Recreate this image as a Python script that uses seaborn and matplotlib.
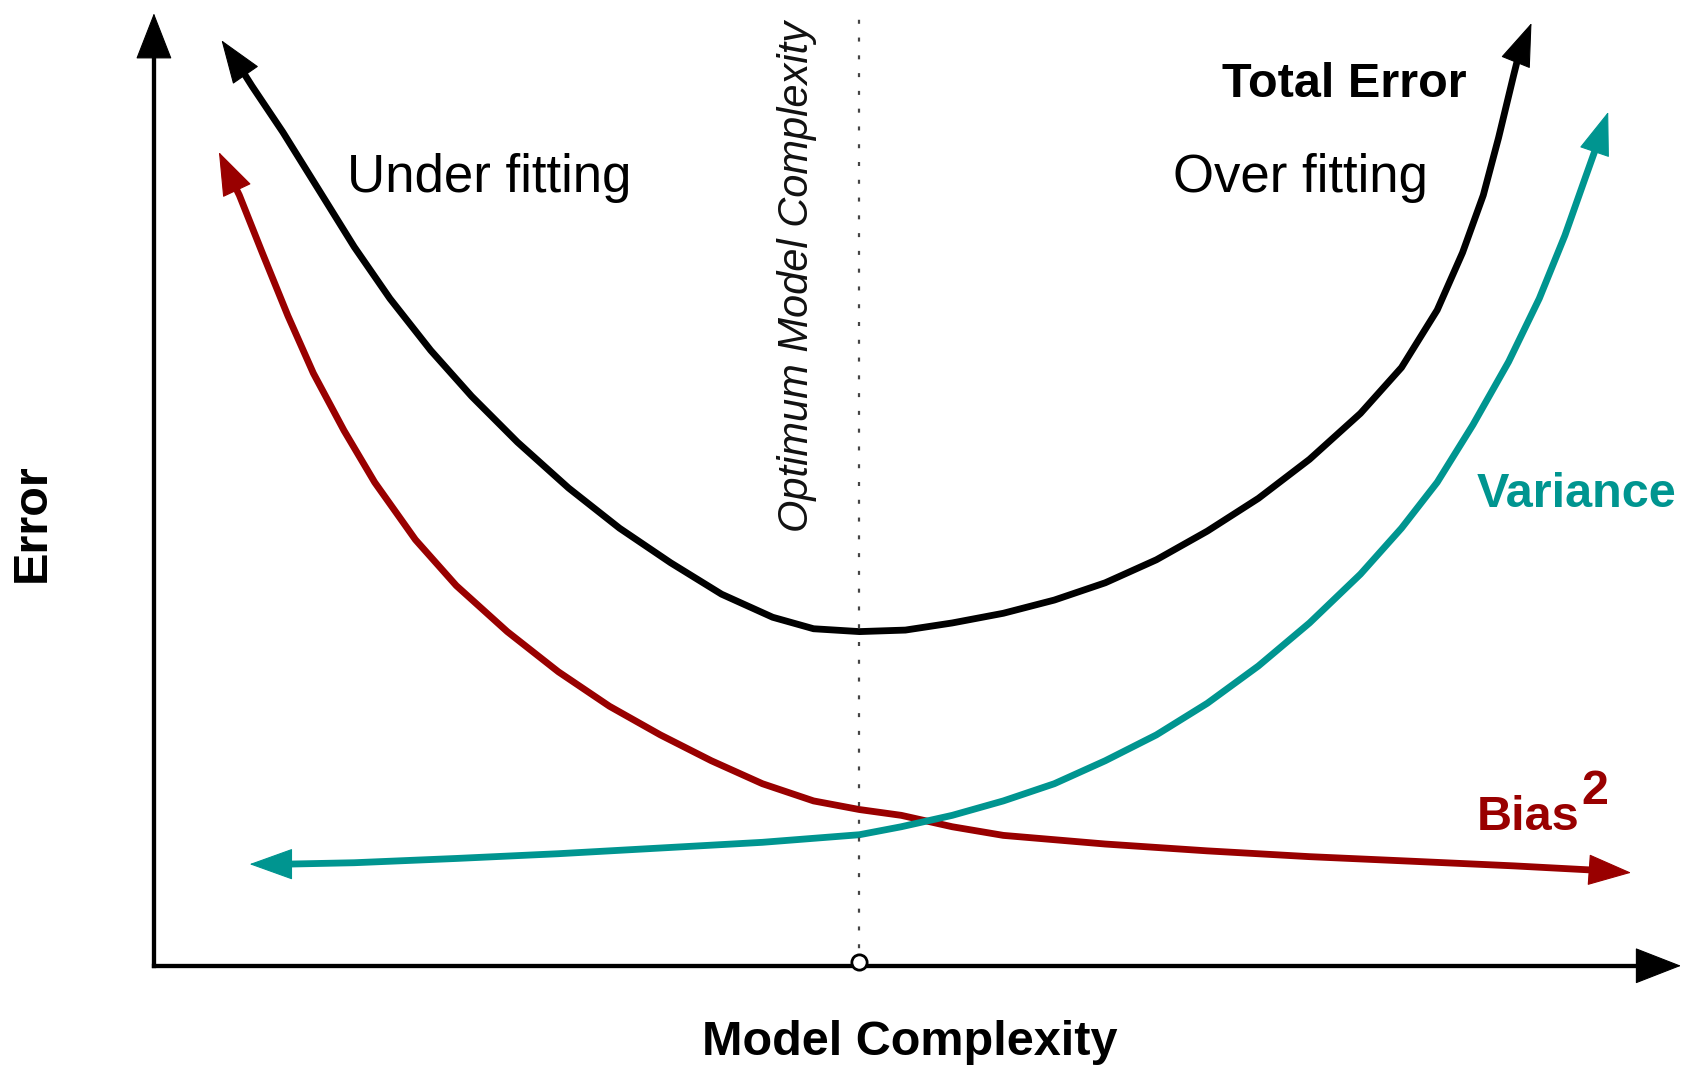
import matplotlib
matplotlib.use("Agg")
import matplotlib.pyplot as plt
import pandas as pd
import seaborn as sns

# Error curves against model complexity (arrow tips kept apart from the curve bodies)
total_x = [0.560, 0.643, 0.845, 1.079, 1.313, 1.547, 1.814, 2.082, 2.383, 2.718,
           3.052, 3.387, 3.721, 4.056, 4.324, 4.625, 4.926, 5.233, 5.568, 5.902,
           6.236, 6.571, 6.905, 7.240, 7.575, 7.909, 8.178, 8.412, 8.578, 8.714,
           8.814, 8.914, 8.947]
total_y = [9.474, 9.263, 8.779, 8.175, 7.570, 7.026, 6.481, 5.998, 5.514, 5.031,
           4.608, 4.244, 3.913, 3.670, 3.549, 3.519, 3.535, 3.610, 3.712, 3.851,
           4.033, 4.275, 4.577, 4.922, 5.333, 5.817, 6.300, 6.905, 7.509, 8.114,
           8.718, 9.384, 9.596]
total_tips = [(0.443, 9.746), (9.030, 9.927)]

bias_x = [0.532, 0.560, 0.710, 0.878, 1.045, 1.246, 1.447, 1.714, 1.982, 2.316,
          2.651, 2.986, 3.320, 3.654, 3.989, 4.324, 4.625, 4.899, 5.233, 5.568,
          6.236, 6.905, 7.575, 8.243, 8.914, 9.430]
bias_y = [8.206, 8.114, 7.509, 6.845, 6.240, 5.636, 5.091, 4.487, 4.003, 3.519,
          3.096, 2.733, 2.431, 2.159, 1.917, 1.736, 1.645, 1.584, 1.464, 1.373,
          1.282, 1.210, 1.149, 1.101, 1.052, 1.008]
bias_tips = [(0.426, 8.568), (9.683, 0.980)]

var_x = [0.861, 1.313, 1.982, 2.651, 3.320, 3.989, 4.625, 4.899, 5.233, 5.568,
         5.902, 6.236, 6.571, 6.905, 7.240, 7.575, 7.909, 8.178, 8.412, 8.646,
         8.880, 9.081, 9.249, 9.382, 9.449]
var_y = [1.070, 1.085, 1.130, 1.180, 1.240, 1.300, 1.380, 1.464, 1.584, 1.736,
         1.917, 2.159, 2.431, 2.764, 3.157, 3.610, 4.124, 4.608, 5.091, 5.696,
         6.360, 7.026, 7.690, 8.295, 8.597]
var_tips = [(0.627, 1.070), (9.533, 8.991)]

optimum_x = 4.622
axis_x_end = 10.01
axis_y_end = 10.03

BLACK = "#000000"
RED = "#990000"
TEAL = "#009590"

sns.set_theme(style="white")
plt.rcParams["font.family"] = ["Liberation Sans", "DejaVu Sans"]

fig = plt.figure(figsize=(16.88, 10.67), dpi=100)
ax = fig.add_axes([0, 0, 1, 1])
ax.set_xlim(-1.009, 10.056)
ax.set_ylim(-1.066, 10.170)
ax.axis("off")

curves = pd.concat([
    pd.DataFrame({"complexity": total_x, "error": total_y, "component": "Total Error"}),
    pd.DataFrame({"complexity": bias_x, "error": bias_y, "component": "Bias"}),
    pd.DataFrame({"complexity": var_x, "error": var_y, "component": "Variance"}),
])
palette = {"Total Error": BLACK, "Bias": RED, "Variance": TEAL}

CURVE_LW = 4.9
sns.lineplot(data=curves, x="complexity", y="error", hue="component",
             palette=palette, hue_order=["Bias", "Variance", "Total Error"],
             estimator=None, sort=False, legend=False, lw=CURVE_LW,
             ax=ax, solid_capstyle="butt", solid_joinstyle="round")


def head(tip, base, color, length=29, width=0.36):
    """Filled arrowhead pointing from base to tip."""
    ax.annotate("", xy=tip, xytext=base,
                arrowprops=dict(arrowstyle=f"-|>,head_length=1.0,head_width={width}",
                                mutation_scale=length, color=color, lw=0.8,
                                shrinkA=0, shrinkB=0))


# arrowheads at both ends of each curve
head(total_tips[0], (total_x[0], total_y[0]), BLACK)
head(total_tips[1], (total_x[-1], total_y[-1]), BLACK)
head(bias_tips[0], (bias_x[0], bias_y[0]), RED)
head(bias_tips[1], (bias_x[-1], bias_y[-1]), RED)
head(var_tips[0], (var_x[0], var_y[0]), TEAL)
head(var_tips[1], (var_x[-1], var_y[-1]), TEAL)

# coordinate axes drawn as arrows
AXIS_LW = 3.1
ax.plot([0, 0], [0, axis_y_end - 0.35], color=BLACK, lw=AXIS_LW,
        solid_capstyle="projecting")
ax.plot([0, axis_x_end - 0.22], [0, 0], color=BLACK, lw=AXIS_LW,
        solid_capstyle="projecting")
head((0, axis_y_end), (0, axis_y_end - 0.4), BLACK, length=31, width=0.39)
head((axis_x_end, 0), (axis_x_end - 0.27, 0), BLACK, length=31, width=0.39)

# optimum complexity marker
ax.plot([optimum_x, optimum_x], [0, 9.97], color="#444444", lw=1.6,
        linestyle=(0, (1.8, 6.2)), zorder=8)
ax.plot([optimum_x], [0.04], marker="o", ms=11, mfc="white", mec=BLACK,
        mew=2.0, zorder=9)
ax.text(4.213, 9.95, "Optimum Model Complexity", rotation=90, ha="center",
        va="top", fontsize=30, style="italic", color="#111111")

# labels
ax.text(7.001, 9.150, "Total Error", fontsize=35, fontweight="bold",
        color=BLACK, ha="left", va="baseline")
ax.text(1.263, 8.152, "Under fitting", fontsize=38, color=BLACK,
        ha="left", va="baseline")
ax.text(6.683, 8.152, "Over fitting", fontsize=38, color=BLACK,
        ha="left", va="baseline")
ax.text(8.673, 4.830, "Variance", fontsize=35, fontweight="bold",
        color=TEAL, ha="left", va="baseline")
bias_txt = ax.text(8.673, 1.429, "Bias", fontsize=35, fontweight="bold",
                   color=RED, ha="left", va="baseline")
ax.annotate("2", xy=(1, 0), xycoords=bias_txt, xytext=(1, 19),
            textcoords="offset points", fontsize=35, fontweight="bold",
            color=RED, ha="left", va="bottom")
ax.text(-0.797, 4.671, "Error", rotation=90, fontsize=35, fontweight="bold",
        color=BLACK, ha="center", va="center")
ax.text(4.954, -0.805, "Model Complexity", fontsize=35, fontweight="bold",
        color=BLACK, ha="center", va="center")

fig.savefig("out.png", dpi=100, facecolor="white")
